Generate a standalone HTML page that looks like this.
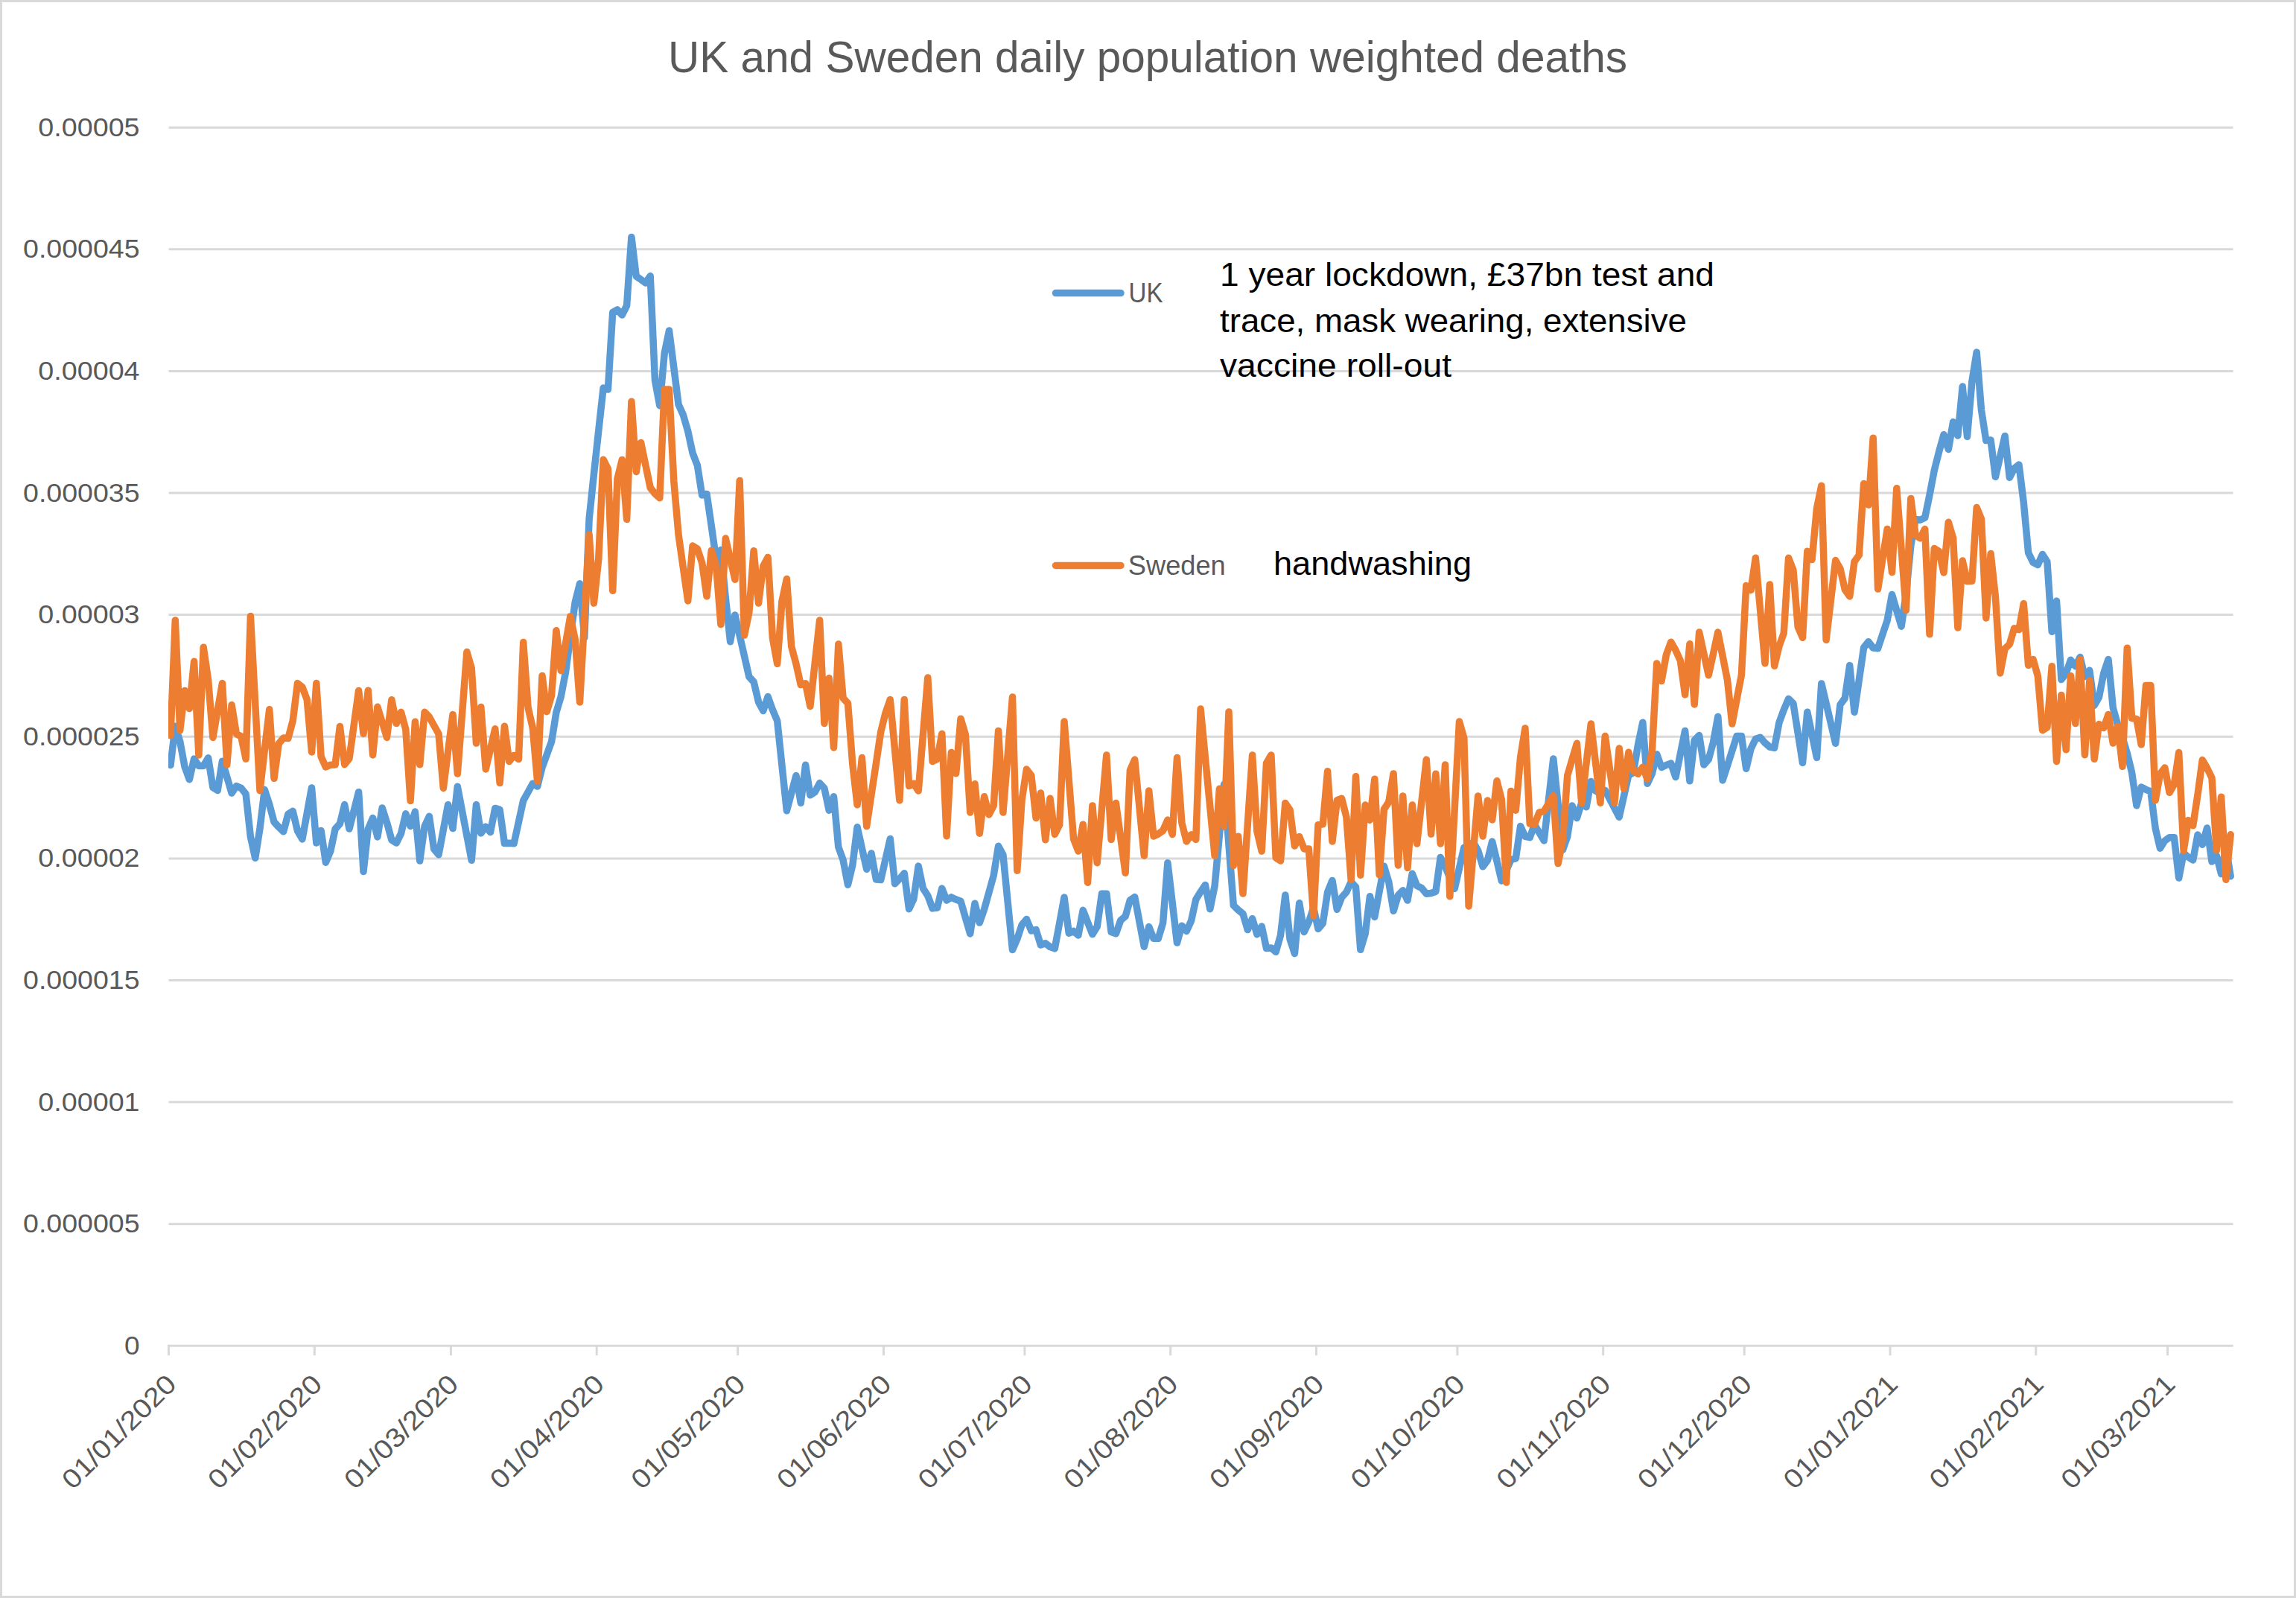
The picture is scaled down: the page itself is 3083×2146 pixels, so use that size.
<!DOCTYPE html>
<html><head><meta charset="utf-8"><title>UK and Sweden daily population weighted deaths</title>
<style>html,body{margin:0;padding:0;background:#fff;}body{width:3083px;height:2146px;overflow:hidden;}svg{display:block;}text{font-family:"Liberation Sans",sans-serif;}</style></head><body>
<svg width="3083" height="2146" viewBox="0 0 3083 2146">
<rect x="0" y="0" width="3083" height="2146" fill="#ffffff"/>
<rect x="1.5" y="1.5" width="3080" height="2143" fill="none" stroke="#D9D9D9" stroke-width="3"/>
<g stroke="#D9D9D9" stroke-width="3" fill="none">
<line x1="224.9" y1="1807.3" x2="2998.5" y2="1807.3"/>
<line x1="226.5" y1="1643.7" x2="2998.5" y2="1643.7"/>
<line x1="226.5" y1="1480.1" x2="2998.5" y2="1480.1"/>
<line x1="226.5" y1="1316.5" x2="2998.5" y2="1316.5"/>
<line x1="226.5" y1="1152.9" x2="2998.5" y2="1152.9"/>
<line x1="226.5" y1="989.2" x2="2998.5" y2="989.2"/>
<line x1="226.5" y1="825.6" x2="2998.5" y2="825.6"/>
<line x1="226.5" y1="662.0" x2="2998.5" y2="662.0"/>
<line x1="226.5" y1="498.4" x2="2998.5" y2="498.4"/>
<line x1="226.5" y1="334.8" x2="2998.5" y2="334.8"/>
<line x1="226.5" y1="171.2" x2="2998.5" y2="171.2"/>
</g>
<g stroke="#D9D9D9" stroke-width="3" fill="none">
<line x1="226.5" y1="1807.3" x2="226.5" y2="1820.3"/>
<line x1="422.3" y1="1807.3" x2="422.3" y2="1820.3"/>
<line x1="605.4" y1="1807.3" x2="605.4" y2="1820.3"/>
<line x1="801.2" y1="1807.3" x2="801.2" y2="1820.3"/>
<line x1="990.7" y1="1807.3" x2="990.7" y2="1820.3"/>
<line x1="1186.5" y1="1807.3" x2="1186.5" y2="1820.3"/>
<line x1="1375.9" y1="1807.3" x2="1375.9" y2="1820.3"/>
<line x1="1571.7" y1="1807.3" x2="1571.7" y2="1820.3"/>
<line x1="1767.5" y1="1807.3" x2="1767.5" y2="1820.3"/>
<line x1="1956.9" y1="1807.3" x2="1956.9" y2="1820.3"/>
<line x1="2152.7" y1="1807.3" x2="2152.7" y2="1820.3"/>
<line x1="2342.2" y1="1807.3" x2="2342.2" y2="1820.3"/>
<line x1="2538.0" y1="1807.3" x2="2538.0" y2="1820.3"/>
<line x1="2733.8" y1="1807.3" x2="2733.8" y2="1820.3"/>
<line x1="2910.6" y1="1807.3" x2="2910.6" y2="1820.3"/>
</g>
<g fill="#595959" font-size="34.7px" text-anchor="end">
<text x="187.6" y="1818.8" textLength="20.6" lengthAdjust="spacingAndGlyphs">0</text>
<text x="187.6" y="1655.2" textLength="156.6" lengthAdjust="spacingAndGlyphs">0.000005</text>
<text x="187.6" y="1491.6" textLength="136.3" lengthAdjust="spacingAndGlyphs">0.00001</text>
<text x="187.6" y="1328.0" textLength="156.6" lengthAdjust="spacingAndGlyphs">0.000015</text>
<text x="187.6" y="1164.4" textLength="136.3" lengthAdjust="spacingAndGlyphs">0.00002</text>
<text x="187.6" y="1000.8" textLength="156.6" lengthAdjust="spacingAndGlyphs">0.000025</text>
<text x="187.6" y="837.1" textLength="136.3" lengthAdjust="spacingAndGlyphs">0.00003</text>
<text x="187.6" y="673.5" textLength="156.6" lengthAdjust="spacingAndGlyphs">0.000035</text>
<text x="187.6" y="509.9" textLength="136.3" lengthAdjust="spacingAndGlyphs">0.00004</text>
<text x="187.6" y="346.3" textLength="156.6" lengthAdjust="spacingAndGlyphs">0.000045</text>
<text x="187.6" y="182.7" textLength="136.3" lengthAdjust="spacingAndGlyphs">0.00005</text>
</g>
<g fill="#595959" font-size="36px" text-anchor="end">
<text transform="translate(238.8,1861.0) rotate(-45)" textLength="199" lengthAdjust="spacingAndGlyphs">01/01/2020</text>
<text transform="translate(434.6,1861.0) rotate(-45)" textLength="199" lengthAdjust="spacingAndGlyphs">01/02/2020</text>
<text transform="translate(617.7,1861.0) rotate(-45)" textLength="199" lengthAdjust="spacingAndGlyphs">01/03/2020</text>
<text transform="translate(813.5,1861.0) rotate(-45)" textLength="199" lengthAdjust="spacingAndGlyphs">01/04/2020</text>
<text transform="translate(1003.0,1861.0) rotate(-45)" textLength="199" lengthAdjust="spacingAndGlyphs">01/05/2020</text>
<text transform="translate(1198.8,1861.0) rotate(-45)" textLength="199" lengthAdjust="spacingAndGlyphs">01/06/2020</text>
<text transform="translate(1388.2,1861.0) rotate(-45)" textLength="199" lengthAdjust="spacingAndGlyphs">01/07/2020</text>
<text transform="translate(1584.0,1861.0) rotate(-45)" textLength="199" lengthAdjust="spacingAndGlyphs">01/08/2020</text>
<text transform="translate(1779.8,1861.0) rotate(-45)" textLength="199" lengthAdjust="spacingAndGlyphs">01/09/2020</text>
<text transform="translate(1969.2,1861.0) rotate(-45)" textLength="199" lengthAdjust="spacingAndGlyphs">01/10/2020</text>
<text transform="translate(2165.0,1861.0) rotate(-45)" textLength="199" lengthAdjust="spacingAndGlyphs">01/11/2020</text>
<text transform="translate(2354.5,1861.0) rotate(-45)" textLength="199" lengthAdjust="spacingAndGlyphs">01/12/2020</text>
<text transform="translate(2550.3,1861.0) rotate(-45)" textLength="199" lengthAdjust="spacingAndGlyphs">01/01/2021</text>
<text transform="translate(2746.1,1861.0) rotate(-45)" textLength="199" lengthAdjust="spacingAndGlyphs">01/02/2021</text>
<text transform="translate(2922.9,1861.0) rotate(-45)" textLength="199" lengthAdjust="spacingAndGlyphs">01/03/2021</text>
</g>
<text x="897" y="97.2" font-size="59.5px" fill="#595959" textLength="1288" lengthAdjust="spacingAndGlyphs">UK and Sweden daily population weighted deaths</text>
<defs><clipPath id="pc"><rect x="226.1" y="100" width="2800" height="1720"/></clipPath></defs>
<path d="M229.0,1027.6 L235.3,975.2 L241.7,995.7 L248.0,1029.7 L254.3,1046.8 L260.6,1019.1 L266.9,1028.5 L273.2,1028.5 L279.6,1017.8 L285.9,1057.6 L292.2,1061.6 L298.5,1022.2 L304.8,1043.6 L311.1,1065.1 L317.4,1055.6 L323.8,1058.4 L330.1,1066.3 L336.4,1123.8 L342.7,1152.2 L349.0,1112.4 L355.3,1060.5 L361.7,1080.2 L368.0,1103.7 L374.3,1110.7 L380.6,1116.8 L386.9,1093.3 L393.2,1089.3 L399.5,1115.9 L405.9,1126.9 L412.2,1092.4 L418.5,1057.9 L424.8,1132.1 L431.1,1115.4 L437.4,1158.3 L443.8,1142.9 L450.1,1113.3 L456.4,1106.3 L462.7,1080.6 L469.0,1113.0 L475.3,1088.3 L481.6,1063.7 L488.0,1170.5 L494.3,1113.3 L500.6,1098.5 L506.9,1123.9 L513.2,1084.9 L519.5,1104.6 L525.9,1128.1 L532.2,1132.1 L538.5,1119.4 L544.8,1092.8 L551.1,1109.5 L557.4,1090.1 L563.7,1156.0 L570.1,1109.8 L576.4,1096.2 L582.7,1140.3 L589.0,1147.8 L595.3,1114.3 L601.6,1080.7 L608.0,1112.6 L614.3,1056.3 L620.6,1089.3 L626.9,1122.3 L633.2,1155.3 L639.5,1080.7 L645.8,1118.9 L652.2,1110.3 L658.5,1117.5 L664.8,1085.4 L671.1,1087.3 L677.4,1132.6 L683.7,1132.3 L690.1,1132.8 L696.4,1104.0 L702.7,1075.1 L709.0,1063.7 L715.3,1052.3 L721.6,1056.1 L728.0,1030.7 L734.3,1013.3 L740.6,995.9 L746.9,956.7 L753.2,935.7 L759.5,902.6 L765.8,855.8 L772.2,809.0 L778.5,783.8 L784.8,856.0 L791.1,697.0 L797.4,637.0 L803.7,579.0 L810.1,521.0 L816.4,523.0 L822.7,419.5 L829.0,416.0 L835.3,423.0 L841.6,410.5 L847.9,318.4 L854.3,371.0 L860.6,375.4 L866.9,380.0 L873.2,370.6 L879.5,511.0 L885.8,544.7 L892.2,474.5 L898.5,444.0 L904.8,493.7 L911.1,543.3 L917.4,557.3 L923.7,579.1 L930.0,608.2 L936.4,625.0 L942.7,664.9 L949.0,663.4 L955.3,706.5 L961.6,751.0 L967.9,738.4 L974.3,803.0 L980.6,861.8 L986.9,825.9 L993.2,853.5 L999.5,881.1 L1005.8,908.7 L1012.1,915.7 L1018.5,942.7 L1024.8,954.6 L1031.1,935.6 L1037.4,953.2 L1043.7,968.0 L1050.0,1028.3 L1056.4,1088.7 L1062.7,1065.1 L1069.0,1041.5 L1075.3,1078.3 L1081.6,1027.2 L1087.9,1067.8 L1094.2,1063.8 L1100.6,1051.6 L1106.9,1058.6 L1113.2,1088.2 L1119.5,1069.7 L1125.8,1137.5 L1132.1,1154.9 L1138.5,1188.2 L1144.8,1161.9 L1151.1,1110.8 L1157.4,1139.1 L1163.7,1167.3 L1170.0,1145.9 L1176.4,1181.0 L1182.7,1181.6 L1189.0,1154.0 L1195.3,1126.5 L1201.6,1186.8 L1207.9,1180.2 L1214.2,1172.7 L1220.6,1220.8 L1226.9,1207.2 L1233.2,1163.1 L1239.5,1193.2 L1245.8,1202.8 L1252.1,1219.9 L1258.5,1219.0 L1264.8,1193.1 L1271.1,1209.1 L1277.4,1204.9 L1283.7,1208.0 L1290.0,1210.3 L1296.3,1232.1 L1302.7,1253.9 L1309.0,1213.3 L1315.3,1239.1 L1321.6,1221.1 L1327.9,1198.5 L1334.2,1175.8 L1340.6,1136.3 L1346.9,1147.9 L1353.2,1211.8 L1359.5,1275.6 L1365.8,1261.2 L1372.1,1242.0 L1378.4,1234.5 L1384.8,1249.9 L1391.1,1248.6 L1397.4,1269.0 L1403.7,1266.8 L1410.0,1271.6 L1416.3,1273.9 L1422.7,1239.5 L1429.0,1205.1 L1435.3,1253.3 L1441.6,1250.4 L1447.9,1256.1 L1454.2,1222.3 L1460.5,1238.5 L1466.9,1254.7 L1473.2,1244.6 L1479.5,1200.2 L1485.8,1200.2 L1492.1,1251.6 L1498.4,1253.9 L1504.8,1235.9 L1511.1,1230.7 L1517.4,1208.9 L1523.7,1204.6 L1530.0,1237.9 L1536.3,1271.3 L1542.7,1244.6 L1549.0,1260.3 L1555.3,1260.3 L1561.6,1239.4 L1567.9,1158.7 L1574.2,1212.4 L1580.5,1266.1 L1586.9,1243.2 L1593.2,1250.4 L1599.5,1236.8 L1605.8,1208.0 L1612.1,1197.6 L1618.4,1188.4 L1624.8,1220.8 L1631.1,1189.8 L1637.4,1121.5 L1643.7,1053.2 L1650.0,1134.5 L1656.3,1215.9 L1662.6,1222.0 L1669.0,1227.2 L1675.3,1248.6 L1681.6,1233.7 L1687.9,1254.7 L1694.2,1244.1 L1700.5,1273.4 L1706.9,1272.9 L1713.2,1278.3 L1719.5,1256.0 L1725.8,1202.0 L1732.1,1261.2 L1738.4,1280.5 L1744.7,1212.8 L1751.1,1251.6 L1757.4,1238.2 L1763.7,1219.0 L1770.0,1247.4 L1776.3,1239.9 L1782.6,1198.1 L1789.0,1182.4 L1795.3,1221.3 L1801.6,1205.1 L1807.9,1198.1 L1814.2,1184.1 L1820.5,1191.1 L1826.8,1275.3 L1833.2,1253.8 L1839.5,1203.7 L1845.8,1231.4 L1852.1,1197.3 L1858.4,1163.2 L1864.7,1184.1 L1871.1,1223.3 L1877.4,1202.4 L1883.7,1195.8 L1890.0,1209.1 L1896.3,1173.3 L1902.6,1189.4 L1908.9,1192.5 L1915.3,1200.3 L1921.6,1199.5 L1927.9,1197.2 L1934.2,1151.4 L1940.5,1163.2 L1946.8,1178.9 L1953.2,1193.4 L1959.5,1165.9 L1965.8,1138.3 L1972.1,1135.4 L1978.4,1131.4 L1984.7,1142.3 L1991.1,1163.8 L1997.4,1155.4 L2003.7,1130.0 L2010.0,1156.4 L2016.3,1182.9 L2022.6,1168.7 L2028.9,1154.5 L2035.3,1152.8 L2041.6,1109.6 L2047.9,1123.3 L2054.2,1124.6 L2060.5,1107.5 L2066.8,1118.2 L2073.2,1128.9 L2079.5,1073.9 L2085.8,1018.9 L2092.1,1080.1 L2098.4,1141.3 L2104.7,1123.4 L2111.0,1081.9 L2117.4,1098.6 L2123.7,1078.1 L2130.0,1083.8 L2136.3,1049.5 L2142.6,1062.2 L2148.9,1065.7 L2155.3,1061.3 L2161.6,1073.3 L2167.9,1085.2 L2174.2,1097.2 L2180.5,1069.1 L2186.8,1041.0 L2193.1,1037.8 L2199.5,1000.3 L2205.8,970.2 L2212.1,1052.3 L2218.4,1038.7 L2224.7,1012.9 L2231.0,1030.5 L2237.4,1027.4 L2243.7,1025.1 L2250.0,1043.6 L2256.3,1012.5 L2262.6,981.5 L2268.9,1048.8 L2275.2,994.3 L2281.6,987.6 L2287.9,1027.0 L2294.2,1019.9 L2300.5,996.9 L2306.8,962.4 L2313.1,1047.9 L2319.5,1028.1 L2325.8,1008.3 L2332.1,988.5 L2338.4,988.5 L2344.7,1032.2 L2351.0,1005.6 L2357.3,992.5 L2363.7,990.2 L2370.0,997.7 L2376.3,1003.0 L2382.6,1004.4 L2388.9,970.7 L2395.2,953.3 L2401.6,938.5 L2407.9,944.6 L2414.2,984.5 L2420.5,1024.4 L2426.8,956.3 L2433.1,986.8 L2439.5,1017.4 L2445.8,917.9 L2452.1,944.7 L2458.4,971.5 L2464.7,998.3 L2471.0,946.3 L2477.3,937.6 L2483.7,893.6 L2490.0,956.4 L2496.3,913.1 L2502.6,869.7 L2508.9,861.8 L2515.2,870.0 L2521.6,870.8 L2527.9,851.8 L2534.2,832.9 L2540.5,798.4 L2546.8,819.8 L2553.1,841.2 L2559.4,797.7 L2565.8,732.6 L2572.1,697.5 L2578.4,698.3 L2584.7,695.2 L2591.0,664.7 L2597.3,631.6 L2603.7,606.3 L2610.0,583.7 L2616.3,603.4 L2622.6,566.6 L2628.9,585.1 L2635.2,519.1 L2641.5,586.3 L2647.9,512.3 L2654.2,473.1 L2660.5,550.6 L2666.8,591.5 L2673.1,591.0 L2679.4,640.3 L2685.8,612.9 L2692.1,585.4 L2698.4,641.4 L2704.7,629.0 L2711.0,624.1 L2717.3,675.2 L2723.6,742.3 L2730.0,755.3 L2736.3,758.5 L2742.6,744.4 L2748.9,754.5 L2755.2,848.2 L2761.5,807.1 L2767.9,912.6 L2774.2,904.3 L2780.5,886.3 L2786.8,894.7 L2793.1,882.5 L2799.4,908.6 L2805.8,900.3 L2812.1,947.5 L2818.4,936.5 L2824.7,904.3 L2831.0,885.5 L2837.3,950.5 L2843.6,973.2 L2850.0,990.6 L2856.3,1011.5 L2862.6,1037.6 L2868.9,1081.7 L2875.2,1057.1 L2881.5,1060.3 L2887.9,1062.9 L2894.2,1112.5 L2900.5,1139.2 L2906.8,1129.1 L2913.1,1124.7 L2919.4,1124.7 L2925.7,1179.0 L2932.1,1145.6 L2938.4,1151.0 L2944.7,1155.0 L2951.0,1121.1 L2957.3,1134.2 L2963.6,1111.9 L2970.0,1157.1 L2976.3,1149.0 L2982.6,1173.6 L2988.9,1138.0 L2995.2,1176.7" fill="none" stroke="#5B9BD5" stroke-width="9.5" stroke-linejoin="round" stroke-linecap="round" clip-path="url(#pc)"/>
<path d="M229.0,987.8 L235.3,833.1 L241.7,980.8 L248.0,927.5 L254.3,951.6 L260.6,888.3 L266.9,1013.9 L273.2,869.2 L279.6,913.2 L285.9,990.4 L292.2,954.0 L298.5,917.6 L304.8,1027.0 L311.1,946.7 L317.4,985.5 L323.8,989.0 L330.1,1019.2 L336.4,827.4 L342.7,944.6 L349.0,1061.8 L355.3,1007.3 L361.7,952.8 L368.0,1045.3 L374.3,998.6 L380.6,991.1 L386.9,991.6 L393.2,968.1 L399.5,917.6 L405.9,922.8 L412.2,939.4 L418.5,1009.9 L424.8,917.6 L431.1,1016.0 L437.4,1030.0 L443.8,1027.2 L450.1,1027.0 L456.4,975.4 L462.7,1026.7 L469.0,1018.6 L475.3,973.1 L481.6,927.5 L488.0,985.2 L494.3,927.2 L500.6,1013.9 L506.9,949.3 L513.2,969.9 L519.5,990.4 L525.9,939.7 L532.2,971.6 L538.5,956.3 L544.8,979.4 L551.1,1075.5 L557.4,969.3 L563.7,1026.7 L570.1,956.3 L576.4,962.9 L582.7,974.2 L589.0,985.5 L595.3,1058.4 L601.6,1009.0 L608.0,959.6 L614.3,1039.1 L620.6,957.3 L626.9,875.6 L633.2,897.4 L639.5,998.1 L645.8,949.5 L652.2,1033.0 L658.5,1005.9 L664.8,978.8 L671.1,1051.6 L677.4,975.3 L683.7,1022.5 L690.1,1014.5 L696.4,1019.5 L702.7,862.5 L709.0,949.7 L715.3,977.6 L721.6,1049.0 L728.0,907.4 L734.3,955.8 L740.6,934.0 L746.9,846.8 L753.2,900.6 L759.5,864.1 L765.8,827.7 L772.2,858.7 L778.5,942.9 L784.8,830.4 L791.1,717.9 L797.4,810.1 L803.7,751.5 L810.1,617.2 L816.4,629.7 L822.7,793.3 L829.0,643.0 L835.3,617.4 L841.6,697.5 L847.9,539.3 L854.3,633.4 L860.6,594.5 L866.9,624.8 L873.2,655.0 L879.5,663.0 L885.8,668.7 L892.2,523.0 L898.5,523.0 L904.8,646.1 L911.1,718.4 L917.4,762.7 L923.7,806.9 L930.0,733.1 L936.4,737.1 L942.7,755.9 L949.0,800.8 L955.3,739.3 L961.6,759.4 L967.9,838.6 L974.3,723.1 L980.6,750.6 L986.9,778.2 L993.2,645.6 L999.5,853.1 L1005.8,822.9 L1012.1,739.7 L1018.5,810.0 L1024.8,760.2 L1031.1,748.4 L1037.4,856.9 L1043.7,891.4 L1050.0,807.2 L1056.4,777.5 L1062.7,868.2 L1069.0,891.7 L1075.3,919.7 L1081.6,917.8 L1087.9,948.5 L1094.2,890.7 L1100.6,832.9 L1106.9,971.5 L1113.2,910.8 L1119.5,1003.9 L1125.8,865.1 L1132.1,937.5 L1138.5,944.5 L1144.8,1026.3 L1151.1,1080.9 L1157.4,1017.6 L1163.7,1109.6 L1170.0,1067.3 L1176.4,1025.1 L1182.7,982.8 L1189.0,957.5 L1195.3,939.6 L1201.6,1007.2 L1207.9,1074.8 L1214.2,939.6 L1220.6,1055.6 L1226.9,1052.5 L1233.2,1062.1 L1239.5,986.0 L1245.8,910.0 L1252.1,1022.5 L1258.5,1019.4 L1264.8,985.4 L1271.1,1122.7 L1277.4,1010.5 L1283.7,1038.7 L1290.0,965.2 L1296.3,986.3 L1302.7,1091.0 L1309.0,1052.8 L1315.3,1119.2 L1321.6,1069.7 L1327.9,1093.9 L1334.2,1082.1 L1340.6,981.4 L1346.9,1091.0 L1353.2,1013.5 L1359.5,936.1 L1365.8,1169.2 L1372.1,1074.6 L1378.4,1033.1 L1384.8,1041.5 L1391.1,1098.6 L1397.4,1065.0 L1403.7,1127.7 L1410.0,1072.3 L1416.3,1120.4 L1422.7,1107.7 L1429.0,969.0 L1435.3,1047.9 L1441.6,1126.9 L1447.9,1143.1 L1454.2,1107.2 L1460.5,1185.2 L1466.9,1081.9 L1473.2,1158.7 L1479.5,1086.4 L1485.8,1014.0 L1492.1,1127.4 L1498.4,1078.4 L1504.8,1125.4 L1511.1,1172.3 L1517.4,1034.5 L1523.7,1020.1 L1530.0,1084.6 L1536.3,1149.2 L1542.7,1061.9 L1549.0,1123.0 L1555.3,1119.9 L1561.6,1115.5 L1567.9,1101.1 L1574.2,1120.4 L1580.5,1017.5 L1586.9,1105.1 L1593.2,1130.0 L1599.5,1120.8 L1605.8,1127.4 L1612.1,952.1 L1618.4,1017.8 L1624.8,1083.5 L1631.1,1149.2 L1637.4,1059.3 L1643.7,1110.0 L1650.0,956.0 L1656.3,1162.2 L1662.6,1123.2 L1669.0,1200.0 L1675.3,1107.1 L1681.6,1014.1 L1687.9,1116.4 L1694.2,1143.1 L1700.5,1024.9 L1706.9,1014.0 L1713.2,1152.1 L1719.5,1156.1 L1725.8,1078.4 L1732.1,1087.7 L1738.4,1136.1 L1744.7,1123.4 L1751.1,1139.9 L1757.4,1139.9 L1763.7,1230.0 L1770.0,1107.7 L1776.3,1106.8 L1782.6,1035.7 L1789.0,1130.0 L1795.3,1074.6 L1801.6,1072.3 L1807.9,1097.2 L1814.2,1181.4 L1820.5,1042.7 L1826.8,1175.3 L1833.2,1081.0 L1839.5,1101.3 L1845.8,1046.2 L1852.1,1174.8 L1858.4,1086.8 L1864.7,1077.2 L1871.1,1038.9 L1877.4,1161.9 L1883.7,1068.9 L1890.0,1165.4 L1896.3,1081.0 L1902.6,1133.0 L1908.9,1076.5 L1915.3,1020.1 L1921.6,1120.1 L1927.9,1039.2 L1934.2,1133.0 L1940.5,1027.0 L1946.8,1203.8 L1953.2,1086.4 L1959.5,969.0 L1965.8,991.0 L1972.1,1216.9 L1978.4,1142.9 L1984.7,1068.9 L1991.1,1123.0 L1997.4,1074.9 L2003.7,1100.9 L2010.0,1048.8 L2016.3,1073.7 L2022.6,1184.9 L2028.9,1062.4 L2035.3,1088.2 L2041.6,1017.1 L2047.9,977.9 L2054.2,1106.0 L2060.5,1107.4 L2066.8,1091.1 L2073.2,1089.4 L2079.5,1079.0 L2085.8,1068.5 L2092.1,1159.6 L2098.4,1128.6 L2104.7,1041.5 L2111.0,1019.9 L2117.4,998.3 L2123.7,1078.6 L2130.0,1025.3 L2136.3,972.0 L2142.6,1025.1 L2148.9,1078.2 L2155.3,988.5 L2161.6,1033.4 L2167.9,1078.2 L2174.2,1005.1 L2180.5,1059.2 L2186.8,1010.3 L2193.1,1035.2 L2199.5,1039.2 L2205.8,1030.3 L2212.1,1046.2 L2218.4,1007.3 L2224.7,890.9 L2231.0,914.6 L2237.4,879.3 L2243.7,862.2 L2250.0,873.2 L2256.3,887.1 L2262.6,932.9 L2268.9,864.8 L2275.2,946.0 L2281.6,849.1 L2287.9,878.0 L2294.2,906.8 L2300.5,878.0 L2306.8,849.1 L2313.1,881.2 L2319.5,913.2 L2325.8,972.1 L2332.1,939.2 L2338.4,906.3 L2344.7,786.4 L2351.0,792.5 L2357.3,749.3 L2363.7,820.1 L2370.0,890.8 L2376.3,785.1 L2382.6,894.3 L2388.9,867.9 L2395.2,850.5 L2401.6,749.3 L2407.9,765.5 L2414.2,841.8 L2420.5,856.3 L2426.8,740.3 L2433.1,751.6 L2439.5,682.8 L2445.8,652.3 L2452.1,859.4 L2458.4,805.9 L2464.7,752.5 L2471.0,763.8 L2477.3,791.7 L2483.7,800.9 L2490.0,754.2 L2496.3,745.5 L2502.6,649.5 L2508.9,678.1 L2515.2,588.2 L2521.6,791.0 L2527.9,750.7 L2534.2,710.4 L2540.5,768.6 L2546.8,655.8 L2553.1,737.6 L2559.4,819.4 L2565.8,669.4 L2572.1,718.7 L2578.4,722.8 L2584.7,710.4 L2591.0,851.7 L2597.3,736.5 L2603.7,740.5 L2610.0,768.9 L2616.3,701.3 L2622.6,722.6 L2628.9,843.0 L2635.2,753.1 L2641.5,780.6 L2647.9,780.2 L2654.2,681.6 L2660.5,697.0 L2666.8,829.9 L2673.1,743.5 L2679.4,801.5 L2685.8,903.9 L2692.1,871.2 L2698.4,865.1 L2704.7,843.7 L2711.0,845.6 L2717.3,810.6 L2723.6,893.5 L2730.0,885.5 L2736.3,907.8 L2742.6,980.7 L2748.9,976.7 L2755.2,894.7 L2761.5,1022.5 L2767.9,933.4 L2774.2,1006.8 L2780.5,907.8 L2786.8,971.6 L2793.1,885.5 L2799.4,1013.8 L2805.8,914.3 L2812.1,1019.3 L2818.4,972.6 L2824.7,977.5 L2831.0,959.6 L2837.3,998.1 L2843.6,975.3 L2850.0,1029.4 L2856.3,870.3 L2862.6,964.5 L2868.9,965.7 L2875.2,999.8 L2881.5,920.4 L2887.9,920.4 L2894.2,1074.7 L2900.5,1039.4 L2906.8,1031.0 L2913.1,1064.3 L2919.4,1053.3 L2925.7,1010.6 L2932.1,1142.3 L2938.4,1101.6 L2944.7,1108.7 L2951.0,1067.2 L2957.3,1020.6 L2963.6,1031.5 L2970.0,1044.6 L2976.3,1141.8 L2982.6,1070.2 L2988.9,1181.3 L2995.2,1120.7" fill="none" stroke="#ED7D31" stroke-width="9.5" stroke-linejoin="round" stroke-linecap="round" clip-path="url(#pc)"/>
<line x1="1417.5" y1="393.6" x2="1505" y2="393.6" stroke="#5B9BD5" stroke-width="9.5" stroke-linecap="round"/>
<text x="1515.5" y="406.2" font-size="36px" fill="#595959" textLength="46" lengthAdjust="spacingAndGlyphs">UK</text>
<line x1="1417.5" y1="759.5" x2="1505" y2="759.5" stroke="#ED7D31" stroke-width="9.5" stroke-linecap="round"/>
<text x="1514.8" y="772.2" font-size="36px" fill="#595959" textLength="131" lengthAdjust="spacingAndGlyphs">Sweden</text>
<g fill="#000000" font-size="45px">
<text x="1638" y="383.6" textLength="664" lengthAdjust="spacingAndGlyphs">1 year lockdown, £37bn test and</text>
<text x="1638" y="445.5" textLength="627" lengthAdjust="spacingAndGlyphs">trace, mask wearing, extensive</text>
<text x="1638" y="506.4" textLength="311" lengthAdjust="spacingAndGlyphs">vaccine roll-out</text>
<text x="1710" y="771.7" textLength="266" lengthAdjust="spacingAndGlyphs">handwashing</text>
</g>
</svg></body></html>
